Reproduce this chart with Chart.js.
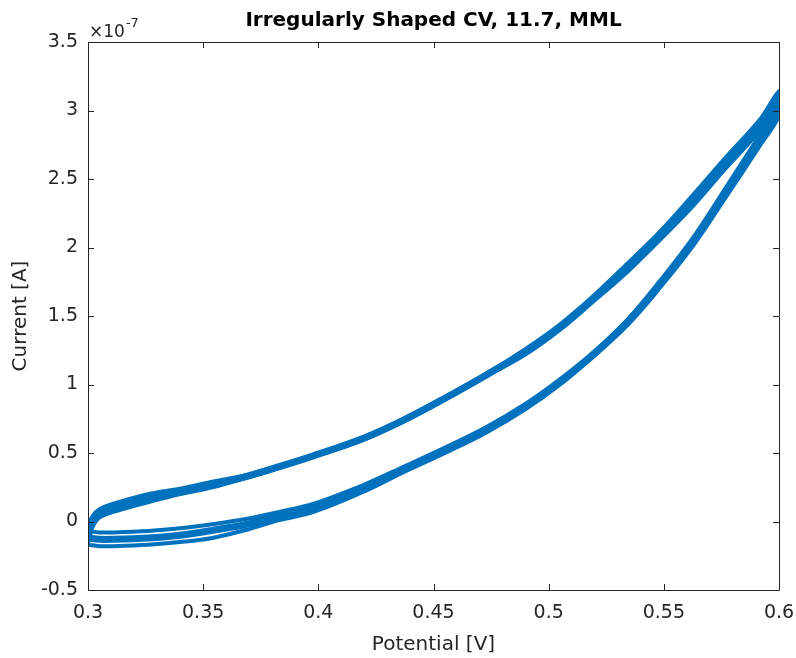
<!DOCTYPE html>
<html>
<head>
<meta charset="utf-8">
<script src="https://cdn.jsdelivr.net/npm/chart.js@4.4.1/dist/chart.umd.min.js"></script>
<style>
  body { margin: 0; background: #fff; }
  #cv { display: block; }
</style>
</head>
<body>
<canvas id="cv" width="796" height="658"></canvas>
<script>
// potential [V], forward sweep (upper branch) and reverse sweep (lower branch)
const potentialFwd = [0.300, 0.302, 0.305, 0.311, 0.326, 0.340, 0.354, 0.369, 0.383, 0.398, 0.420, 0.437,
                      0.455, 0.473, 0.490, 0.505, 0.519, 0.534, 0.548, 0.563, 0.577, 0.592, 0.600];
const potentialRev = [0.600, 0.592, 0.577, 0.563, 0.548, 0.534, 0.519, 0.505, 0.490, 0.473, 0.455, 0.437,
                      0.420, 0.398, 0.383, 0.369, 0.354, 0.340, 0.326, 0.311, 0.305, 0.300];

// current in units of 1e-7 A: outer edge, middle and inner edge of the band of cycles
const cycle1Fwd = [-0.04, 0.04, 0.09, 0.13, 0.20, 0.24, 0.29, 0.34, 0.41, 0.49, 0.62, 0.75,
                   0.91, 1.08, 1.26, 1.44, 1.64, 1.88, 2.11, 2.39, 2.66, 2.94, 3.14];
const cycle1Rev = [3.04, 2.83, 2.44, 2.08, 1.75, 1.47, 1.23, 1.04, 0.86, 0.69, 0.54, 0.40,
                   0.27, 0.13, 0.07, 0.02, -0.02, -0.05, -0.07, -0.08, -0.08, -0.07];
const cycle2Fwd = [-0.10, 0.00, 0.06, 0.10, 0.17, 0.22, 0.27, 0.33, 0.40, 0.48, 0.61, 0.74,
                   0.90, 1.07, 1.24, 1.42, 1.62, 1.85, 2.08, 2.35, 2.62, 2.90, 3.10];
const cycle2Rev = [3.00, 2.79, 2.40, 2.05, 1.72, 1.45, 1.21, 1.02, 0.84, 0.67, 0.52, 0.38,
                   0.245, 0.10, 0.04, -0.02, -0.065, -0.10, -0.12, -0.13, -0.13, -0.12];
const cycle3Fwd = [-0.16, -0.04, 0.03, 0.07, 0.14, 0.20, 0.25, 0.32, 0.39, 0.47, 0.60, 0.73,
                   0.89, 1.06, 1.22, 1.40, 1.60, 1.82, 2.05, 2.31, 2.58, 2.86, 3.06];
const cycle3Rev = [2.96, 2.75, 2.37, 2.02, 1.70, 1.43, 1.20, 1.00, 0.82, 0.65, 0.50, 0.36,
                   0.22, 0.07, 0.01, -0.06, -0.12, -0.15, -0.17, -0.18, -0.18, -0.17];

const xTicks = [0.3, 0.35, 0.4, 0.45, 0.5, 0.55, 0.6];
const yTicks = [-0.5, 0, 0.5, 1, 1.5, 2, 2.5, 3, 3.5];

const titleText = 'Irregularly Shaped CV, 11.7, MML';
const xLabel = 'Potential [V]';
const yLabel = 'Current [A]';

const BLUE = '#0072BD';
const AXIS = '#262626';
const FONT = '"DejaVu Sans", sans-serif';

function loop(fwd, rev) {
    const pts = potentialFwd.map((x, i) => ({ x: x, y: fwd[i] }));
    return pts.concat(potentialRev.map((x, i) => ({ x: x, y: rev[i] })));
}

function cycleSet(fwd, rev, width) {
    return {
        data: loop(fwd, rev),
        showLine: true,
        borderColor: BLUE,
        borderWidth: width,
        borderJoinStyle: 'round',
        pointRadius: 0,
        tension: 0.35,
        fill: false,
        clip: 0
    };
}

// MATLAB style box, inward ticks, title and exponent
const matlabAxes = {
    id: 'matlabAxes',
    afterDatasetsDraw(chart) {
        const { ctx, chartArea: a, scales } = chart;
        ctx.save();
        ctx.strokeStyle = AXIS;
        ctx.lineWidth = 1;
        ctx.beginPath();
        ctx.rect(Math.round(a.left) + 0.5, Math.round(a.top) + 0.5,
                 Math.round(a.right - a.left), Math.round(a.bottom - a.top));
        const tl = 6;
        xTicks.forEach(v => {
            const px = Math.round(scales.x.getPixelForValue(v)) + 0.5;
            ctx.moveTo(px, a.bottom); ctx.lineTo(px, a.bottom - tl);
            ctx.moveTo(px, a.top); ctx.lineTo(px, a.top + tl);
        });
        yTicks.forEach(v => {
            const py = Math.round(scales.y.getPixelForValue(v)) + 0.5;
            ctx.moveTo(a.left, py); ctx.lineTo(a.left + tl, py);
            ctx.moveTo(a.right, py); ctx.lineTo(a.right - tl, py);
        });
        ctx.stroke();
        ctx.restore();
    },
    afterDraw(chart) {
        const { ctx, chartArea: a } = chart;
        ctx.save();
        ctx.fillStyle = '#000';
        ctx.font = 'bold 20px ' + FONT;
        ctx.textAlign = 'center';
        ctx.textBaseline = 'middle';
        ctx.fillText(titleText, (a.left + a.right) / 2, 21);

        ctx.fillStyle = AXIS;
        ctx.textAlign = 'left';
        ctx.textBaseline = 'alphabetic';
        ctx.font = '17px ' + FONT;
        ctx.fillText('\u00d710', a.left + 1, 37);
        const w = ctx.measureText('\u00d710').width;
        ctx.font = '13px ' + FONT;
        ctx.fillText('-7', a.left + 1 + w + 1, 27);
        ctx.restore();
    }
};

new Chart(document.getElementById('cv'), {
    type: 'scatter',
    data: {
        datasets: [
            cycleSet(cycle1Fwd, cycle1Rev, 4),
            cycleSet(cycle3Fwd, cycle3Rev, 4),
            cycleSet(cycle2Fwd, cycle2Rev, 7)
        ]
    },
    options: {
        responsive: false,
        animation: false,
        layout: { padding: { left: 0, top: 42, right: 17, bottom: 0 } },
        plugins: { legend: { display: false }, tooltip: { enabled: false } },
        scales: {
            x: {
                type: 'linear',
                min: 0.3, max: 0.6,
                afterFit: s => { s.height = 68; s.paddingLeft = 0; s.paddingRight = 0; },
                afterBuildTicks: s => { s.ticks = xTicks.map(v => ({ value: v })); },
                grid: { display: false, drawTicks: false, tickLength: 0 },
                border: { display: false },
                ticks: {
                    color: AXIS, font: { family: FONT, size: 19 }, padding: 12,
                    maxRotation: 0, autoSkip: false,
                    callback: v => String(+v.toFixed(2))
                },
                title: { display: true, text: xLabel, color: AXIS,
                         font: { family: FONT, size: 20 }, padding: { top: 0, bottom: 1 } }
            },
            y: {
                type: 'linear',
                min: -0.5, max: 3.5,
                afterFit: s => { s.width = 88; s.paddingTop = 0; s.paddingBottom = 0; },
                afterBuildTicks: s => { s.ticks = yTicks.map(v => ({ value: v })); },
                grid: { display: false, drawTicks: false, tickLength: 0 },
                border: { display: false },
                ticks: {
                    color: AXIS, font: { family: FONT, size: 19 }, padding: 10,
                    autoSkip: false,
                    callback: v => String(+v.toFixed(2))
                },
                title: { display: true, text: yLabel, color: AXIS,
                         font: { family: FONT, size: 20 }, padding: { top: 9, bottom: 0 } }
            }
        }
    },
    plugins: [matlabAxes]
});
</script>
</body>
</html>
